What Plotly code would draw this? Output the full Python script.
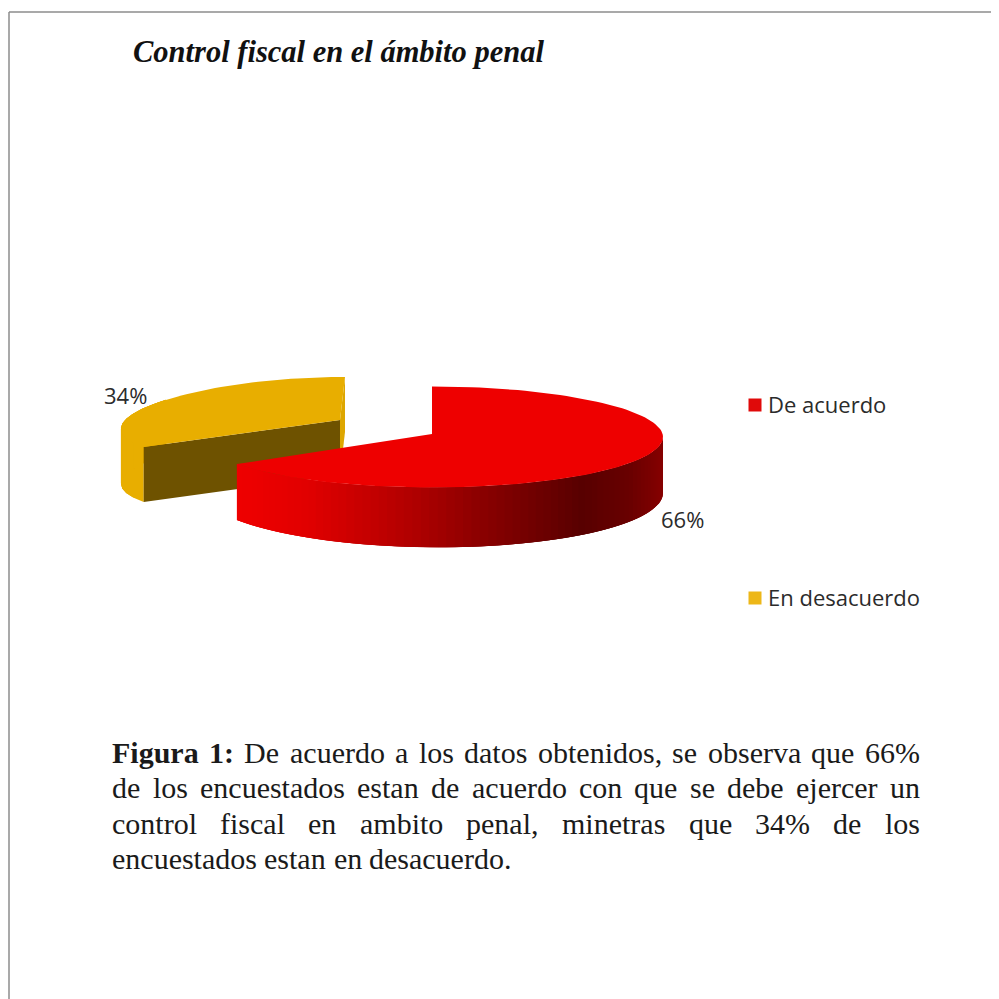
import math
import plotly.graph_objects as go

categories = ["De acuerdo", "En desacuerdo"]
values = [66, 34]
colors = ["#EE0000", "#E8AE00"]
legend_colors = ["#E00A0A", "#EDB718"]
brown = "#6E5200"
title = "Control fiscal en el ámbito penal"
caption_lines = [
    ["<b>Figura</b>", "<b>1:</b>", "De", "acuerdo", "a", "los", "datos", "obtenidos,", "se", "observa", "que", "66%"],
    ["de", "los", "encuestados", "estan", "de", "acuerdo", "con", "que", "se", "debe", "ejercer", "un"],
    ["control", "fiscal", "en", "ambito", "penal,", "minetras", "que", "34%", "de", "los"],
    ["encuestados", "estan", "en", "desacuerdo."],
]
caption_y = [752, 787, 823, 858]

REG = dict(a=444, b=500, c=444, d=500, e=444, f=333, g=500, i=278, j=278, l=278, m=778, n=500, o=500,
           p=500, q=500, r=333, s=389, t=278, u=500, v=500, D=722)
REG.update({"1": 500, "3": 500, "4": 500, "6": 500, "%": 833, ",": 250, ".": 250})
BOLD = dict(F=611, i=278, g=500, u=556, r=444, a=500)
BOLD.update({"1": 500, ":": 333})
FONT_PX = 30
LEFT, RIGHT = 110, 918


def word_width(w):
    if w.startswith("<b>"):
        return sum(BOLD[c] for c in w[3:-4]) * FONT_PX / 1000
    return sum(REG[c] for c in w) * FONT_PX / 1000


def justified(words, stretch=True):
    widths = [word_width(w) for w in words]
    gap = (RIGHT - LEFT - sum(widths)) / (len(words) - 1) if stretch else 0.25 * FONT_PX
    xs, x = [], LEFT
    for wd in widths:
        xs.append(x)
        x += wd + gap
    return xs


total = sum(values)
red_sweep = 360 * values[0] / total


def rim(theta, cx, cy, rx, ry, k=0.0):
    t = math.radians(theta)
    return (cx + rx * math.sin(t) * (1 - k * math.cos(t)), cy - ry * math.cos(t))


def arc(a, b, n, *p):
    return [rim(a + (b - a) * i / n, *p) for i in range(n + 1)]


def poly(points, color):
    return go.Scatter(
        x=[p[0] for p in points], y=[p[1] for p in points], mode="lines", fill="toself",
        fillcolor=color, line=dict(color=color, width=0), hoverinfo="skip", showlegend=False,
    )


stops = [(238, (238, 0, 0)), (300, (225, 0, 0)), (400, (178, 0, 0)), (470, (140, 0, 0)),
         (575, (88, 0, 0)), (625, (105, 0, 0)), (663, (135, 0, 0))]


def side_color(x):
    for (x0, c0), (x1, c1) in zip(stops, stops[1:]):
        if x <= x1:
            f = max(0, (x - x0) / (x1 - x0))
            return "rgb(%d,%d,%d)" % tuple(round(a + (b - a) * f) for a, b in zip(c0, c1))
    return "rgb(%d,%d,%d)" % stops[-1][1]


R = (432, 437, 231, 50.5)
Y = (345, 422.6, 222, 45.6, 0.138)
apex_r = (432, 434)
apex_y = (340, 420)
depth_y = 55


def depth_r(theta):
    return 56 + 4 * math.sin(math.pi * (theta - 90) / (red_sweep - 90))


fig = go.Figure()


def wall(a, b, n, params, depth_fn, color_fn):
    step = (b - a) / n
    for i in range(n):
        s0 = a + step * i
        s1 = min(b, s0 + step * 3)
        angles = [s0 + (s1 - s0) * j / 3 for j in range(4)]
        upper = [rim(t, *params) for t in angles]
        lower = [(rim(t, *params)[0], rim(t, *params)[1] + depth_fn(t)) for t in angles[::-1]]
        xm = sum(p[0] for p in upper) / len(upper)
        fig.add_trace(poly(upper + lower, color_fn(xm)))


# exploded slice
y_arc = arc(red_sweep, 360, 60, *Y)
wall(red_sweep, 300, 10, Y, lambda t: depth_y, lambda x: colors[1])
top_r = y_arc[-1]
fig.add_trace(poly([top_r, apex_y, (apex_y[0], apex_y[1] + depth_y), (top_r[0], top_r[1] + depth_y)], "#DDA600"))
fig.add_trace(poly([y_arc[0], apex_y, (apex_y[0], apex_y[1] + depth_y), (y_arc[0][0], y_arc[0][1] + depth_y)], brown))
fig.add_trace(poly(y_arc + [apex_y], colors[1]))

# main slice: outer wall in narrow overlapping strips, then the top face
wall(90, red_sweep, 70, R, depth_r, side_color)
fig.add_trace(poly(arc(0, red_sweep, 120, *R) + [apex_r], colors[0]))

# legend
legend_y = [404, 597]
for name, c, ly in zip(categories, legend_colors, [405, 598]):
    fig.add_trace(go.Scatter(x=[755], y=[ly], mode="markers", name=name, showlegend=False,
                             marker=dict(symbol="square", size=13, color=c), hoverinfo="name"))

TXT = dict(family="Open Sans, Noto Sans", size=22, color="#2b2b2b")
ann = []
for name, ly in zip(categories, legend_y):
    ann.append(dict(x=766, y=ly, text=name, xanchor="left", yanchor="middle", showarrow=False, font=TXT))
ann.append(dict(x=102, y=395, text=f"{values[1]}%", xanchor="left", yanchor="middle", showarrow=False, font=TXT))
ann.append(dict(x=659, y=519, text=f"{values[0]}%", xanchor="left", yanchor="middle", showarrow=False, font=TXT))
ann.append(dict(x=131, y=52, text=f"<b><i>{title}</i></b>", xanchor="left", yanchor="middle", showarrow=False,
                font=dict(family="Liberation Serif", size=30.5, color="#111111")))
for i, (words, ly) in enumerate(zip(caption_lines, caption_y)):
    for w, x in zip(words, justified(words, stretch=i < len(caption_lines) - 1)):
        ann.append(dict(x=x, y=ly, text=w, xanchor="left", yanchor="middle", showarrow=False,
                        font=dict(family="Liberation Serif", size=FONT_PX, color="#1a1a1a")))

fig.update_layout(
    width=999, height=999, margin=dict(l=0, r=0, t=0, b=0), autosize=False,
    paper_bgcolor="white", plot_bgcolor="white", showlegend=False, annotations=ann,
    xaxis=dict(range=[8, 1007], visible=False, fixedrange=True),
    yaxis=dict(range=[1007, 8], visible=False, fixedrange=True),
    shapes=[
        dict(type="line", xref="x", yref="y", x0=9, x1=1007, y0=12, y1=12, line=dict(color="#8c8c8c", width=1.5)),
        dict(type="line", xref="x", yref="y", x0=9, x1=9, y0=12, y1=1007, line=dict(color="#8c8c8c", width=1.5)),
    ],
)
fig.write_html("out.html", config=dict(displayModeBar=False))
